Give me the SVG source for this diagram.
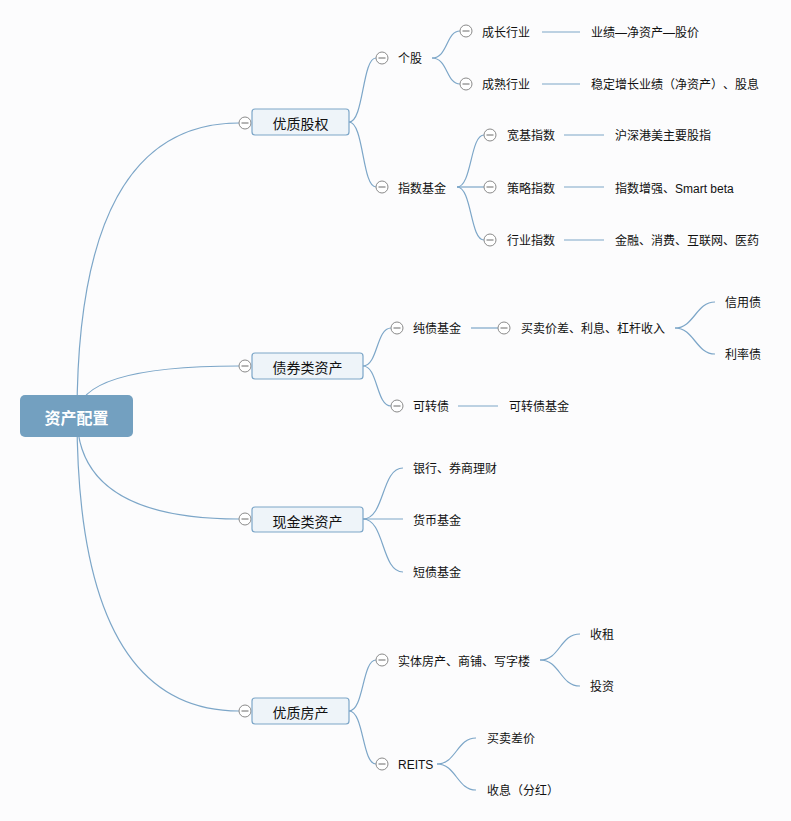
<svg xmlns="http://www.w3.org/2000/svg" width="791" height="821" viewBox="0 0 791 821">
<style>
.bg{fill:#fcfcfd}
.ln{fill:none;stroke:#7ca6c8;stroke-width:1.2}
.cc{fill:#ffffff;stroke:#8a8a8a;stroke-width:1}
.cl{stroke:#6a6a6a;stroke-width:1}
text{text-spacing-trim:space-all}
.t{font-family:"Liberation Sans","Noto Sans CJK SC",sans-serif;font-size:12px;fill:#111111;dominant-baseline:central}
.tp{font-family:"Noto Sans CJK SC","Liberation Sans",sans-serif;font-size:14px;fill:#111111;text-anchor:middle;dominant-baseline:central}
.box{fill:#eef4f9;stroke:#7ca6c8;stroke-width:1.2}
.root{fill:#73a0c0}
.rt{font-family:"Noto Sans CJK SC","Liberation Sans",sans-serif;font-size:16px;font-weight:bold;fill:#ffffff;text-anchor:middle;dominant-baseline:central}
</style>
<defs>
<g id="col"><circle class="cc" cx="0" cy="0" r="6"/><line class="cl" x1="-3.5" y1="0" x2="3.5" y2="0"/></g>
</defs>
<rect class="bg" x="0" y="0" width="791" height="821"/>
<g id="connectors">
<path class="ln" d="M77,416 Q77,123 239,123"/>
<path class="ln" d="M77,416 Q77,366 239,366"/>
<path class="ln" d="M77,416 Q77,519 239,519"/>
<path class="ln" d="M77,416 Q77,711 239,711"/>
<path class="ln" d="M349,122 C364,122 362,58 376,58"/>
<path class="ln" d="M349,122 C364,122 362,187 376,187"/>
<path class="ln" d="M432,58 C448,58 446,31 460,31"/>
<path class="ln" d="M432,58 C448,58 446,84 460,84"/>
<path class="ln" d="M542,32 L580,32"/>
<path class="ln" d="M542,84 L580,84"/>
<path class="ln" d="M457,187 C472,187 470,135 484,135"/>
<path class="ln" d="M457,187 L484,187"/>
<path class="ln" d="M457,187 C472,187 470,240 484,240"/>
<path class="ln" d="M564,135 L604,135"/>
<path class="ln" d="M564,187 L604,187"/>
<path class="ln" d="M564,240 L604,240"/>
<path class="ln" d="M363,366 C378,366 376,328 391,328"/>
<path class="ln" d="M363,366 C378,366 376,406 391,406"/>
<path class="ln" d="M471,328 L498,328"/>
<path class="ln" d="M675,328 C694,328 696,302 715,302"/>
<path class="ln" d="M675,328 C694,328 696,354 715,354"/>
<path class="ln" d="M458,406 L498,406"/>
<path class="ln" d="M363,519 C385,519 381,468 403,468"/>
<path class="ln" d="M363,519 L403,519"/>
<path class="ln" d="M363,519 C385,519 381,572 403,572"/>
<path class="ln" d="M349,711 C364,711 362,660 376,660"/>
<path class="ln" d="M349,711 C364,711 362,764 376,764"/>
<path class="ln" d="M540,660 C560,660 560,634 580,634"/>
<path class="ln" d="M540,660 C560,660 560,686 580,686"/>
<path class="ln" d="M437,764 C456,764 457,738 476,738"/>
<path class="ln" d="M437,764 C456,764 457,790 476,790"/>
</g>
<g id="root"><rect class="root" x="20" y="395" width="113" height="42" rx="5"/><text class="rt" x="76.5" y="417">资产配置</text></g>
<g id="n-yzgq"><use href="#col" x="245" y="123"/><rect class="box" x="252" y="109" width="97" height="26" rx="3"/><text class="tp" x="300.5" y="123">优质股权</text></g>
<g id="n-zqlzc"><use href="#col" x="245" y="366"/><rect class="box" x="252" y="353" width="111" height="26" rx="3"/><text class="tp" x="307.5" y="367">债券类资产</text></g>
<g id="n-xjlzc"><use href="#col" x="245" y="519"/><rect class="box" x="252" y="507" width="111" height="25" rx="3"/><text class="tp" x="307.5" y="520.5">现金类资产</text></g>
<g id="n-yzfc"><use href="#col" x="245" y="711"/><rect class="box" x="252" y="698" width="97" height="26" rx="3"/><text class="tp" x="300.5" y="712">优质房产</text></g>
<g id="n-gg"><use href="#col" x="382" y="58"/><text class="t" x="398" y="59">个股</text></g>
<g id="n-czhy"><use href="#col" x="466" y="31"/><text class="t" x="482" y="33">成长行业</text></g>
<g id="n-csh"><use href="#col" x="466" y="84"/><text class="t" x="482" y="85">成熟行业</text></g>
<g id="n-yj"><text class="t" x="591" y="33">业绩—净资产—股价</text></g>
<g id="n-wd"><text class="t" x="591" y="85">稳定增长业绩（净资产）、股息</text></g>
<g id="n-zsjj"><use href="#col" x="382" y="187"/><text class="t" x="398" y="189">指数基金</text></g>
<g id="n-kjzs"><use href="#col" x="490" y="135"/><text class="t" x="507" y="136">宽基指数</text></g>
<g id="n-clzs"><use href="#col" x="490" y="187"/><text class="t" x="507" y="189">策略指数</text></g>
<g id="n-hyzs"><use href="#col" x="490" y="240"/><text class="t" x="507" y="241">行业指数</text></g>
<g id="n-hs"><text class="t" x="615" y="136">沪深港美主要股指</text></g>
<g id="n-zszq"><text class="t" x="615" y="189">指数增强、Smart beta</text></g>
<g id="n-jr"><text class="t" x="615" y="241">金融、消费、互联网、医药</text></g>
<g id="n-czjj"><use href="#col" x="397" y="328"/><text class="t" x="413" y="329">纯债基金</text></g>
<g id="n-mmjc"><use href="#col" x="504" y="328"/><text class="t" x="521" y="329">买卖价差、利息、杠杆收入</text></g>
<g id="n-xyz"><text class="t" x="725" y="303">信用债</text></g>
<g id="n-llz"><text class="t" x="725" y="355">利率债</text></g>
<g id="n-kzz"><use href="#col" x="397" y="406"/><text class="t" x="413" y="407">可转债</text></g>
<g id="n-kzzjj"><text class="t" x="509" y="407">可转债基金</text></g>
<g id="n-yh"><text class="t" x="413" y="469">银行、券商理财</text></g>
<g id="n-hbjj"><text class="t" x="413" y="521">货币基金</text></g>
<g id="n-dzjj"><text class="t" x="413" y="573">短债基金</text></g>
<g id="n-stfc"><use href="#col" x="382" y="660"/><text class="t" x="398" y="662">实体房产、商铺、写字楼</text></g>
<g id="n-sz"><text class="t" x="590" y="635">收租</text></g>
<g id="n-tz"><text class="t" x="590" y="687">投资</text></g>
<g id="n-reits"><use href="#col" x="382" y="764"/><text class="t" x="398" y="765">REITS</text></g>
<g id="n-mmcj"><text class="t" x="487" y="739">买卖差价</text></g>
<g id="n-sx"><text class="t" x="487" y="791">收息（分红）</text></g>
</svg>
